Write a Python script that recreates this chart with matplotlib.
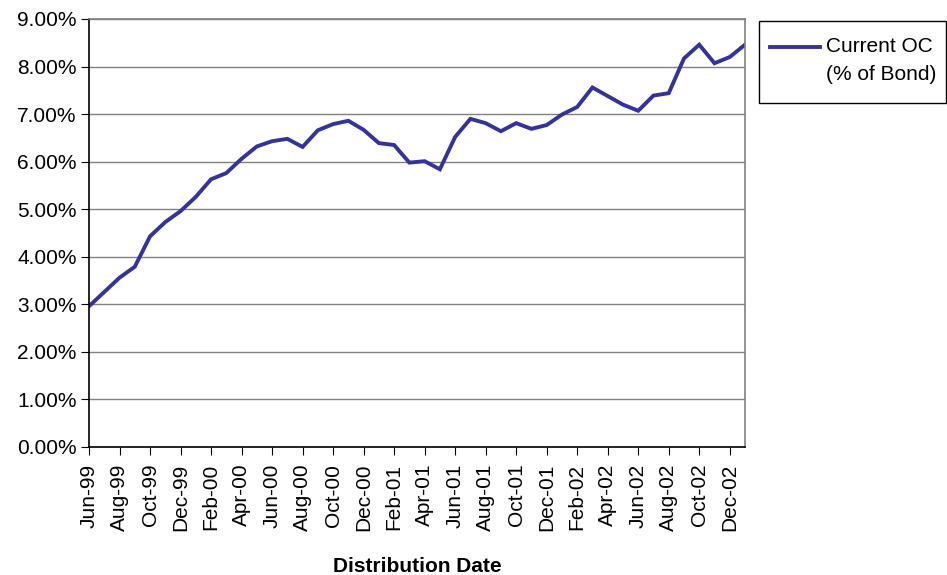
import matplotlib
matplotlib.use("Agg")
import matplotlib.pyplot as plt
from matplotlib.lines import Line2D
from matplotlib.patches import Rectangle
from matplotlib.ticker import FuncFormatter, MultipleLocator
import numpy as np
import pandas as pd

plt.rcParams["font.family"] = ["Liberation Sans", "DejaVu Sans"]

# monthly distribution dates, Jun-99 .. Jan-03
dates = pd.date_range("1999-06-01", periods=44, freq="MS")
date_labels = [d.strftime("%b-%y") for d in dates]

current_oc = [
    2.96, 3.26, 3.56, 3.79, 4.43, 4.73, 4.96, 5.26, 5.63, 5.76,
    6.06, 6.32, 6.43, 6.48, 6.31, 6.66, 6.79, 6.86, 6.67, 6.39,
    6.35, 5.98, 6.01, 5.84, 6.52, 6.90, 6.81, 6.64, 6.81, 6.69,
    6.77, 6.99, 7.15, 7.56, 7.38, 7.20, 7.07, 7.39, 7.44, 8.17,
    8.46, 8.07, 8.20, 8.46,
]

LINE_COLOR = "#333399"
GRID_COLOR = "#808080"
FS = 15

W, H = 947, 575
fig = plt.figure(figsize=(W / 100, H / 100), dpi=100)
ax = fig.add_axes([89 / W, (H - 447) / H, 656 / W, 428 / H])

x = np.arange(len(current_oc))
ax.plot(x, current_oc, color=LINE_COLOR, linewidth=2.8, solid_joinstyle="miter")

ax.set_xlim(0, len(current_oc) - 1)
ax.set_ylim(0, 9)
ax.yaxis.set_major_locator(MultipleLocator(1))
ax.yaxis.set_major_formatter(FuncFormatter(lambda v, _: f"{v:.2f}%"))
ax.grid(True, axis="y", color=GRID_COLOR, linewidth=1.0)
ax.set_axisbelow(True)

tick_pos = x[::2]
ax.set_xticks(tick_pos)
ax.set_xticklabels([date_labels[i] for i in tick_pos], rotation=90, fontsize=FS)
ax.tick_params(axis="y", labelsize=FS, length=6, color="black", pad=3)
ax.tick_params(axis="x", length=6, color="black", pad=6)

for side in ("top", "right"):
    ax.spines[side].set_color(GRID_COLOR)
    ax.spines[side].set_linewidth(1.2)
for side in ("left", "bottom"):
    ax.spines[side].set_color("black")
    ax.spines[side].set_linewidth(1.2)

fig.text(417 / W, 1 - 566 / H, "Distribution Date", ha="center", va="center",
         fontsize=FS, fontweight="bold")

# legend box
fig.patches.append(Rectangle((759 / W, 1 - 103 / H), 187 / W, 82 / H,
                             transform=fig.transFigure, facecolor="white",
                             edgecolor="black", linewidth=1.0))
fig.lines.append(Line2D([770 / W, 820 / W], [1 - 47 / H, 1 - 47 / H],
                        transform=fig.transFigure, color=LINE_COLOR, linewidth=2.8))
fig.text(826 / W, 1 - 47 / H, "Current OC", ha="left", va="center", fontsize=FS)
fig.text(826 / W, 1 - 75 / H, "(% of Bond)", ha="left", va="center", fontsize=FS)

fig.savefig("out.png", dpi=100)
